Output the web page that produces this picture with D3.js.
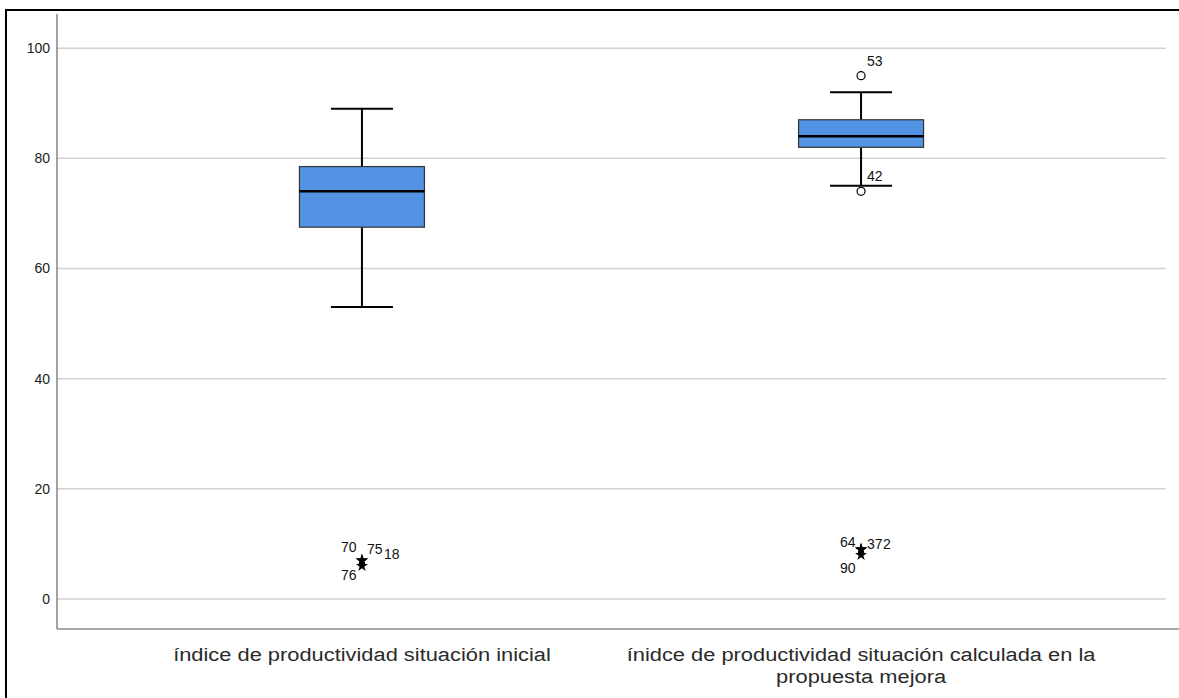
<!DOCTYPE html>
<html>
<head>
<meta charset="utf-8">
<script src="https://cdn.jsdelivr.net/npm/d3@7"></script>
<style>
  body { margin: 0; background: #fff; overflow: hidden; }
  svg { display: block; font-family: Arial, "Liberation Sans", sans-serif; }
</style>
</head>
<body>
<svg id="chart" width="1179" height="698"></svg>
<script>
// categories (two lines for the second label)
var categories = ["índice de productividad situación inicial",
                  "inidce de productividad situación calculada en la propuesta mejora"];
var categoryLines = [["índice de productividad situación inicial"],
                     ["ínidce de productividad situación calculada en la", "propuesta mejora"]];

// box statistics: [lowWhisker, q1, median, q3, highWhisker]
var boxStats = [[53, 67.5, 74, 78.5, 89],
                [75, 82, 84, 87, 92]];

// mild outliers (circles) and extreme values (stars), with case labels
var outliers = [[], [{value: 95, label: "53"}, {value: 74, label: "42"}]];
var extremes = [
  [{value: 7, label: "70"}, {value: 7, label: "75"}, {value: 7, label: "18"}, {value: 6, label: "76"}],
  [{value: 9, label: "64"}, {value: 9, label: "37"}, {value: 9, label: "2"}, {value: 8, label: "90"}]
];

var yTicks = [0, 20, 40, 60, 80, 100];

// label placement around the extreme markers (style only)
var extremeLabelPos = [
  [[-21, -8], [5, -6.5], [22, -1.5], [-21, 20]],
  [[-21, -2.5], [6, -0.5], [22, -0.5], [-21, 23.5]]
];

var svg = d3.select("#chart");
var plotLeft = 57, plotRight = 1166, plotTop = 14, plotBottom = 629;

var y = d3.scaleLinear().domain([-5.45, 106.2]).range([plotBottom, plotTop]);
var x = d3.scalePoint().domain(categories).range([plotLeft, plotRight]).padding(0.611);

// outer frame (left and top edge visible)
svg.append("line").attr("x1", 6).attr("x2", 1179).attr("y1", 10).attr("y2", 10)
  .attr("stroke", "#000").attr("stroke-width", 2);
svg.append("line").attr("x1", 6).attr("x2", 6).attr("y1", 9).attr("y2", 698)
  .attr("stroke", "#000").attr("stroke-width", 2);

// grid
svg.append("g").selectAll("line").data(yTicks).enter().append("line")
  .attr("x1", plotLeft).attr("x2", plotRight)
  .attr("y1", function (d) { return y(d); }).attr("y2", function (d) { return y(d); })
  .attr("stroke", "#d2d2d2").attr("stroke-width", 1.5);

// y axis
var yAxis = svg.append("g").attr("transform", "translate(" + plotLeft + ",0)")
  .call(d3.axisLeft(y).tickValues(yTicks).tickSize(0).tickPadding(7));
yAxis.select(".domain").remove();
yAxis.selectAll("text").attr("font-size", 14).attr("fill", "#222")
  .attr("font-family", "Arial, 'Liberation Sans', sans-serif");

// axis lines
svg.append("line").attr("x1", plotLeft).attr("x2", plotLeft).attr("y1", plotTop).attr("y2", plotBottom)
  .attr("stroke", "#666").attr("stroke-width", 1.2);
svg.append("line").attr("x1", plotLeft).attr("x2", 1179).attr("y1", plotBottom).attr("y2", plotBottom)
  .attr("stroke", "#555").attr("stroke-width", 1.2);

var boxW = 125, capW = 62;
categories.forEach(function (c, i) {
  var cx = x(c), s = boxStats[i];
  var g = svg.append("g");
  // whiskers
  g.append("line").attr("x1", cx).attr("x2", cx).attr("y1", y(s[0])).attr("y2", y(s[1]))
    .attr("stroke", "#000").attr("stroke-width", 2);
  g.append("line").attr("x1", cx).attr("x2", cx).attr("y1", y(s[3])).attr("y2", y(s[4]))
    .attr("stroke", "#000").attr("stroke-width", 2);
  [s[0], s[4]].forEach(function (v) {
    g.append("line").attr("x1", cx - capW / 2).attr("x2", cx + capW / 2)
      .attr("y1", y(v)).attr("y2", y(v)).attr("stroke", "#000").attr("stroke-width", 2);
  });
  // box
  g.append("rect").attr("x", cx - boxW / 2).attr("y", y(s[3]))
    .attr("width", boxW).attr("height", y(s[1]) - y(s[3]))
    .attr("fill", "#5393e3").attr("stroke", "#333").attr("stroke-width", 1.2);
  g.append("line").attr("x1", cx - boxW / 2).attr("x2", cx + boxW / 2)
    .attr("y1", y(s[2])).attr("y2", y(s[2])).attr("stroke", "#000").attr("stroke-width", 2.5);

  // outliers
  outliers[i].forEach(function (o) {
    g.append("circle").attr("cx", cx).attr("cy", y(o.value)).attr("r", 4)
      .attr("fill", "#fff").attr("stroke", "#000").attr("stroke-width", 1.2);
    g.append("text").attr("x", cx + 6).attr("y", y(o.value) - 10)
      .attr("font-size", 14).attr("fill", "#111").text(o.label);
  });

  // extremes
  var ext = extremes[i];
  ext.forEach(function (e) {
    g.append("path").attr("d", d3.symbol().type(d3.symbolStar).size(45)())
      .attr("transform", "translate(" + cx + "," + y(e.value) + ")")
      .attr("fill", "#000");
  });
  var base = y(ext[0].value);
  ext.forEach(function (e, k) {
    var p = extremeLabelPos[i][k];
    g.append("text").attr("x", cx + p[0]).attr("y", base + p[1])
      .attr("font-size", 14).attr("fill", "#111").text(e.label);
  });

  // category label (glyphs a little wider than the installed Arial substitute)
  var t = svg.append("text").attr("text-anchor", "middle")
    .attr("transform", "translate(" + cx + ",661) scale(1.15,1)")
    .attr("font-size", 19).attr("fill", "#2a2a2a");
  categoryLines[i].forEach(function (line, k) {
    t.append("tspan").attr("x", 0).attr("y", k * 22).text(line);
  });
});
</script>
</body>
</html>
